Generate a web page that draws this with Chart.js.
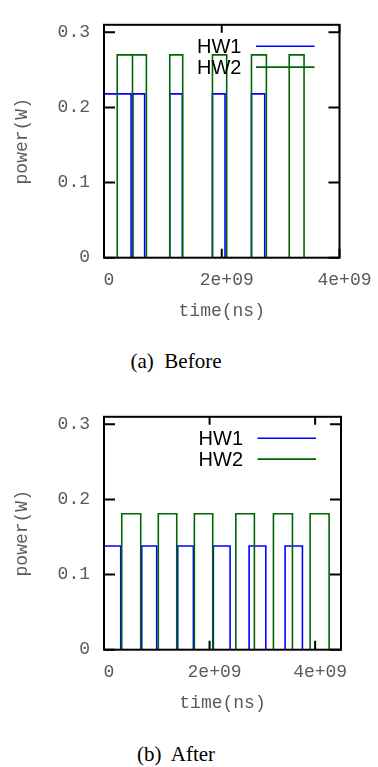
<!DOCTYPE html>
<html>
<head>
<meta charset="utf-8">
<script src="https://cdn.jsdelivr.net/npm/chart.js@4.4.1/dist/chart.umd.min.js"></script>
<style>
  html, body { margin: 0; padding: 0; background: #fff; }
  body { width: 378px; height: 767px; position: relative; overflow: hidden; }
  canvas { position: absolute; left: 0; }
  .cap { position: absolute; left: 0; width: 352px; text-align: center; font-family: "Liberation Serif", "Times New Roman", serif; font-size: 21px; line-height: 24px; color: #000; white-space: pre; }
</style>
</head>
<body>
<canvas id="before" width="378" height="330" style="top:0px"></canvas>
<div class="cap" style="top:349px">(a)  Before</div>
<canvas id="after" width="378" height="330" style="top:392px"></canvas>
<div class="cap" style="top:742px">(b)  After</div>
<script>
// ---- data (time in ns, power in W) ----
const seriesNames = ['HW1', 'HW2'];
const yTicks = [0, 0.1, 0.2, 0.3];
const yTickLabels = ['0', '0.1', '0.2', '0.3'];
const xTicks = [0, 2e9, 4e9];
const xTickLabels = ['0', '2e+09', '4e+09'];
const yMax = 0.31;
const beforeXMax = 4.0e9;
const afterXMax = 4.49e9;

// (a) Before: pulses [start, end] and level
const beforeHW1Level = 0.218;
const beforeHW1Pulses = [[0, 0.46e9], [0.49e9, 0.69e9], [1.117e9, 1.33e9], [1.842e9, 2.056e9], [2.505e9, 2.73e9]];
const beforeHW2Level = 0.270;
const beforeHW2Pulses = [[0.225e9, 0.484e9], [0.484e9, 0.72e9], [1.117e9, 1.337e9], [1.842e9, 2.084e9], [2.505e9, 2.758e9], [3.146e9, 3.398e9]];

// (b) After
const afterHW1Level = 0.138;
const afterHW1Pulses = [[0, 0.317e9], [0.715e9, 0.999e9], [1.397e9, 1.693e9], [2.072e9, 2.389e9], [2.749e9, 3.065e9], [3.431e9, 3.759e9]];
const afterHW2Level = 0.181;
const afterHW2Pulses = [[0.336e9, 0.696e9], [1.029e9, 1.378e9], [1.712e9, 2.06e9], [2.497e9, 2.849e9], [3.21e9, 3.57e9], [3.905e9, 4.265e9]];

const colors = { HW1: '#0000ff', HW2: '#006400' };

function stepPoints(pulses, level, xmax) {
  const pts = [];
  if (pulses[0][0] > 0) pts.push({ x: 0, y: 0 });
  for (const [s, e] of pulses) {
    pts.push({ x: s, y: 0 }, { x: s, y: level }, { x: e, y: level }, { x: e, y: 0 });
  }
  pts.push({ x: xmax, y: 0 });
  return pts;
}

const frameTicks = {
  id: 'frameTicks',
  afterDatasetsDraw(chart) {
    const { ctx, chartArea: a, scales } = chart;
    ctx.save();
    ctx.strokeStyle = '#000';
    ctx.lineWidth = 2;
    ctx.beginPath();
    for (const v of yTicks) {
      const py = scales.y.getPixelForValue(v);
      ctx.moveTo(a.left, py); ctx.lineTo(a.left + 11, py);
      ctx.moveTo(a.right, py); ctx.lineTo(a.right - 11, py);
    }
    for (const v of xTicks) {
      const px = scales.x.getPixelForValue(v);
      ctx.moveTo(px, a.bottom); ctx.lineTo(px, a.bottom - 9);
      ctx.moveTo(px, a.top); ctx.lineTo(px, a.top + 8);
    }
    ctx.stroke();
    ctx.strokeRect(a.left, a.top, a.right - a.left, a.bottom - a.top);
    // legend (gnuplot style: text, then line sample)
    ctx.font = '20px "Liberation Sans", Arial, sans-serif';
    ctx.textAlign = 'right';
    ctx.textBaseline = 'middle';
    seriesNames.forEach((name, i) => {
      const y = a.top + 21.5 + i * 20.8;
      ctx.fillStyle = '#000';
      ctx.fillText(name, a.right - 98, y + 1);
      ctx.strokeStyle = colors[name];
      ctx.lineWidth = 1.6;
      ctx.beginPath();
      ctx.moveTo(a.right - 83.5, y); ctx.lineTo(a.right - 25, y);
      ctx.stroke();
    });
    ctx.restore();
  }
};

function makeChart(id, hw1, hw2, xmax) {
  const monoFont = { family: '"Liberation Mono", "Courier New", monospace', size: 18 };
  const txt = '#5a5a5a';
  return new Chart(document.getElementById(id), {
    type: 'line',
    data: {
      datasets: [
        { label: 'HW2', data: hw2, borderColor: colors.HW2, borderWidth: 1.6, pointRadius: 0, tension: 0, fill: false },
        { label: 'HW1', data: hw1, borderColor: colors.HW1, borderWidth: 1.6, pointRadius: 0, tension: 0, fill: false }
      ]
    },
    options: {
      responsive: false,
      animation: false,
      devicePixelRatio: 1,
      parsing: true,
      layout: { padding: { top: 4.3, right: 37, bottom: 0, left: 0 } },
      plugins: { legend: { display: false }, tooltip: { enabled: false } },
      scales: {
        x: {
          type: 'linear', min: 0, max: xmax,
          grid: { display: false, drawTicks: false },
          border: { display: false },
          afterBuildTicks: s => { s.ticks = xTicks.map(v => ({ value: v })); },
          afterFit: s => { s.height = 72.3; },
          ticks: {
            font: monoFont, color: txt, padding: 11.5, labelOffset: 5, maxRotation: 0,
            callback: (v) => xTickLabels[xTicks.indexOf(v)]
          },
          title: { display: true, text: 'time(ns)', font: monoFont, color: txt, padding: { top: 0, bottom: 7.5 } }
        },
        y: {
          type: 'linear', min: 0, max: yMax,
          grid: { display: false, drawTicks: false },
          border: { display: false },
          afterBuildTicks: s => { s.ticks = yTicks.map(v => ({ value: v })); },
          afterFit: s => { s.width = 104; },
          ticks: {
            font: monoFont, color: txt, padding: 14,
            callback: (v) => yTickLabels[yTicks.indexOf(v)]
          },
          title: { display: true, text: 'power(W)', font: monoFont, color: txt, padding: { top: 11.2, bottom: 0 } }
        }
      }
    },
    plugins: [frameTicks]
  });
}

makeChart('before',
  stepPoints(beforeHW1Pulses, beforeHW1Level, beforeXMax),
  stepPoints(beforeHW2Pulses, beforeHW2Level, beforeXMax),
  beforeXMax);
makeChart('after',
  stepPoints(afterHW1Pulses, afterHW1Level, afterXMax),
  stepPoints(afterHW2Pulses, afterHW2Level, afterXMax),
  afterXMax);
</script>
</body>
</html>
